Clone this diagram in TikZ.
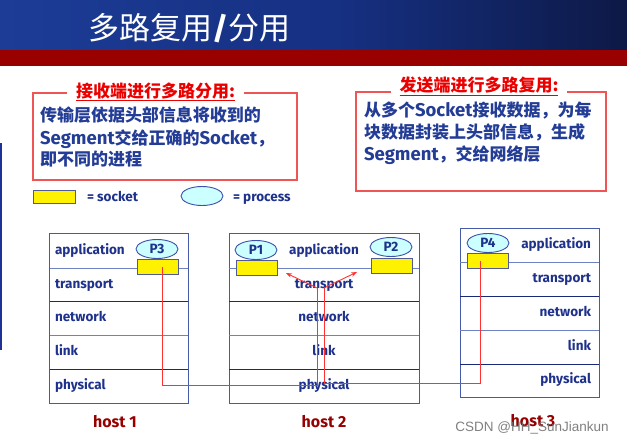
\documentclass[tikz,border=0pt]{standalone}
\usepackage{fontspec}
\setmainfont{Fira Sans}
\newfontfamily\cjk{Noto Sans CJK SC}
\newfontfamily\wmfont{Liberation Sans}
\usetikzlibrary{arrows.meta,shapes.geometric}
\definecolor{tbA}{RGB}{28,60,150}
\definecolor{tbB}{RGB}{22,48,130}
\definecolor{tbC}{RGB}{13,25,70}
\definecolor{bandred}{RGB}{153,0,0}
\definecolor{boxred}{RGB}{240,85,85}
\definecolor{titred}{RGB}{235,0,0}
\definecolor{bodyblue}{RGB}{35,60,150}
\definecolor{labblue}{RGB}{30,50,140}
\definecolor{boxblue}{RGB}{70,90,170}
\definecolor{sepA}{RGB}{110,130,195}
\definecolor{sepB}{RGB}{25,40,120}
\definecolor{sockborder}{RGB}{80,90,150}
\definecolor{proccyan}{RGB}{204,255,255}
\definecolor{procborder}{RGB}{60,80,170}
\definecolor{lred}{RGB}{255,50,50}
\definecolor{hostred}{RGB}{150,0,0}
\definecolor{leftline}{RGB}{30,50,150}
\definecolor{wmgray}{RGB}{115,115,115}
\pgfdeclarehorizontalshading{titlebar}{100bp}{color(0bp)=(tbA); color(25bp)=(tbA); color(52bp)=(tbB); color(75bp)=(tbC); color(100bp)=(tbC)}
\newcommand\lat[1]{{\rmfamily\bfseries\fontsize{18.5}{18.5}\selectfont #1}}
\newcommand\laysize{\rmfamily\bfseries\fontsize{13.5}{13.5}\selectfont}
\newcommand\bodysize{\cjk\bfseries\fontsize{17}{17}\selectfont}
\begin{document}
\begin{tikzpicture}[x=1pt,y=-1pt,
  every node/.style={inner sep=0pt,outer sep=0pt},
  hostbox/.style={draw=boxblue,line width=1pt},
  sepa/.style={draw=sepA,line width=1pt},
  sepb/.style={draw=sepB,line width=1pt},
  lay/.style={font=\laysize,text=labblue,text height=9.5pt,text depth=3pt},
  sock/.style={draw=sockborder,fill=yellow,line width=0.9pt,minimum width=41pt,minimum height=15pt},
  proc/.style={ellipse,draw=procborder,fill=proccyan,line width=0.9pt,minimum width=42pt,minimum height=19pt,font=\laysize,text=labblue},
  redline/.style={draw=lred,line width=0.9pt},
  redbox/.style={draw=boxred,line width=1.2pt},
  boxtitle/.style={fill=white,inner xsep=9pt,inner ysep=2pt,text=titred,font=\cjk\bfseries\fontsize{17}{17}\selectfont},
  bodyline/.style={anchor=base west,text=bodyblue,font=\bodysize},
  hostlab/.style={text=hostred,font=\rmfamily\bfseries\fontsize{16}{16}\selectfont},
  legtext/.style={anchor=base west,text=labblue,font=\rmfamily\bfseries\fontsize{13.5}{13.5}\selectfont}]
\useasboundingbox (0,0) rectangle (627,445);
\fill[white] (0,0) rectangle (627,445);
% title bar
\shade[shading=titlebar] (0,0) rectangle (627,50);
\fill[bandred] (0,50) rectangle (627,66);
\node[anchor=base west,text=white,font=\cjk\fontsize{31}{31}\selectfont] (title) at (88,39) {多路复用{\rmfamily\bfseries /}分用};
% left vertical line
\draw[leftline,line width=1.5pt] (1,143) -- (1,350);
% left box
\draw[redbox] (33,93) rectangle (297,180);
\node[boxtitle,anchor=base] (ltitle) at (155.5,97.5) {\underline{接收端进行多路分用:}};
\node[bodyline] (l1) at (40,121) {传输层依据头部信息将收到的};
\node[bodyline] (l2) at (40,144) {\lat{Segment}交给正确的\lat{Socket}，};
\node[bodyline] (l3) at (40,165.5) {即不同的进程};
% right box
\draw[redbox] (356,92) rectangle (606,191);
\node[boxtitle,anchor=base] (rtitle) at (479,91.5) {\underline{发送端进行多路复用:}};
\node[bodyline] (r1) at (364,116) {从多个\lat{Socket}接收数据，为每};
\node[bodyline] (r2) at (364,138.5) {块数据封装上头部信息，生成};
\node[bodyline] (r3) at (364,160.5) {\lat{Segment}，交给网络层};
% legend
\node[sock,minimum width=42pt,minimum height=13pt] (legsock) at (54,196.5) {};
\node[legtext] (legsockt) at (87,201) {= socket};
\node[proc,minimum height=19pt] (legproc) at (202,196) {};
\node[legtext] (legproct) at (233,201) {= process};
% host 1
\draw[hostbox] (49.5,233) rectangle (188,403);
\draw[sepa] (49.5,268) -- (188,268);
\draw[sepb] (49.5,301) -- (188,301);
\draw[sepa] (49.5,335) -- (188,335);
\draw[sepb] (49.5,369) -- (188,369);
\node[lay,anchor=west] (h1app) at (55,251) {application};
\node[lay,anchor=west] (h1tr) at (55,285) {transport};
\node[lay,anchor=west] (h1net) at (55,318) {network};
\node[lay,anchor=west] (h1lnk) at (55,352) {link};
\node[lay,anchor=west] (h1phy) at (55,386) {physical};
\node[proc] (p3) at (157,249) {P3};
\node[sock] (s3) at (157.5,266.5) {};
\node[hostlab] (host1) at (115,422) {host 1};
% host 2
\draw[hostbox] (229,233) rectangle (419,403);
\draw[sepa] (229,268) -- (419,268);
\draw[sepb] (229,301) -- (419,301);
\draw[sepa] (229,335) -- (419,335);
\draw[sepb] (229,369) -- (419,369);
\node[lay] (h2app) at (324,251) {application};
\node[lay] (h2tr) at (324,285) {transport};
\node[lay] (h2net) at (324,318) {network};
\node[lay] (h2lnk) at (324,352) {link};
\node[lay] (h2phy) at (324,386) {physical};
\node[proc] (p1) at (256,250) {P1};
\node[sock] (s1) at (256.5,268) {};
\node[proc] (p2) at (391,247) {P2};
\node[sock] (s2) at (391.5,265.5) {};
\node[hostlab] (host2) at (324,422) {host 2};
% host 3
\draw[hostbox] (460,228) rectangle (599,397);
\draw[sepa] (460,262) -- (599,262);
\draw[sepb] (460,296) -- (599,296);
\draw[sepa] (460,330) -- (599,330);
\draw[sepb] (460,364) -- (599,364);
\node[lay,anchor=east] (h3app) at (591,245) {application};
\node[lay,anchor=east] (h3tr) at (591,279) {transport};
\node[lay,anchor=east] (h3net) at (591,313) {network};
\node[lay,anchor=east] (h3lnk) at (591,347) {link};
\node[lay,anchor=east] (h3phy) at (591,380) {physical};
\node[proc] (p4) at (488,243) {P4};
\node[sock] (s4) at (487.5,260.5) {};
\node[hostlab] (host3) at (533,421) {host 3};
% red connectors
\coordinate (v1) at (317,288);
\coordinate (v2) at (324,288);
\coordinate (a1) at (286,273);
\coordinate (a2) at (357,272);
\coordinate (c1) at (162,385.5);
\coordinate (c2) at (480,383.5);
\draw[redline] (s3.center -| c1) -- (c1) -- (c1 -| v1) -- (v1);
\draw[redline,-{Stealth[length=6pt,width=4.5pt]}] (v1) -- (a1);
\draw[redline] (s4.center -| c2) -- (c2) -- (c2 -| v2) -- (v2);
\draw[redline,-{Stealth[length=6pt,width=4.5pt]}] (v2) -- (a2);
% watermark
\node[text=wmgray,opacity=0.9,font=\wmfont\fontsize{13.5}{13.5}\selectfont] (wm) at (532,428) {CSDN @HH\_SunJiankun};
\end{tikzpicture}
\end{document}
